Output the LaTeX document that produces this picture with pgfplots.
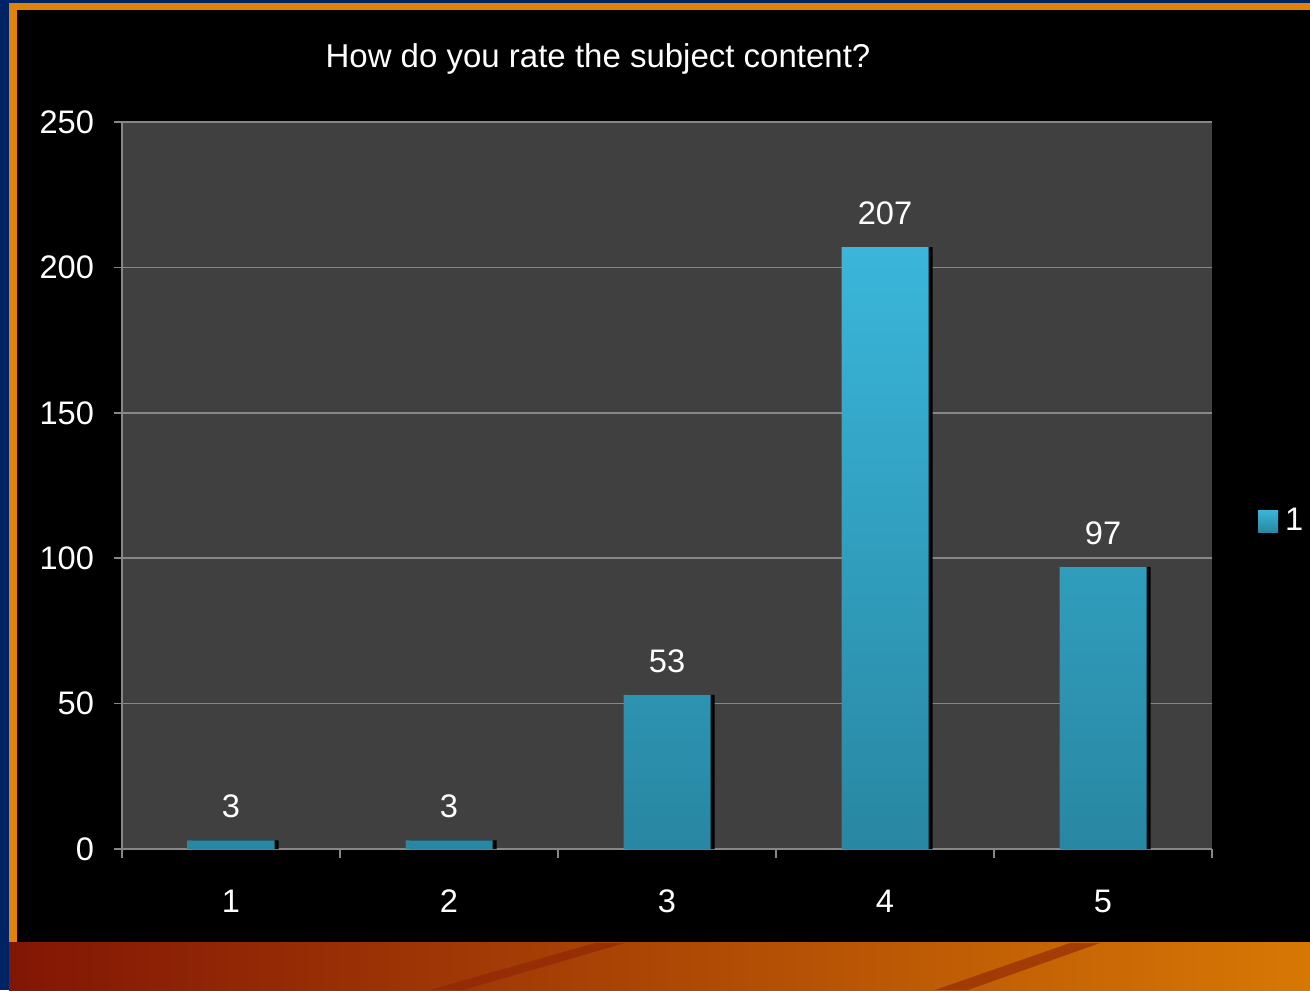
\documentclass[border=0pt]{standalone}
\usepackage{pgfplots}
\pgfplotsset{compat=1.18}
\usepackage{fontspec}
\setmainfont{Liberation Sans}
\definecolor{slideblue}{RGB}{0,35,100}
\definecolor{slideorange}{RGB}{225,130,10}
\definecolor{bandleft}{RGB}{130,22,5}
\definecolor{bandright}{RGB}{215,120,5}
\definecolor{stripe}{RGB}{140,35,5}
\definecolor{plotbg}{RGB}{64,64,64}
\definecolor{gridgray}{RGB}{135,135,135}
\definecolor{bartop}{RGB}{58,182,218}
\definecolor{barbottom}{RGB}{40,135,162}
\begin{document}
\begin{tikzpicture}[x=0.5pt,y=0.5pt]
% slide background
\fill[slideblue] (0,0) rectangle (1310,990);
\fill[slideorange] (9,0) rectangle (1310,987);
\shade[left color=bandleft, right color=bandright] (9,0) rectangle (1310,48);
\fill[stripe, opacity=0.6] (430,0) -- (463,0) -- (625,47) -- (595,47) -- cycle;
\fill[stripe, opacity=0.6] (935,0) -- (968,0) -- (1100,47) -- (1070,47) -- cycle;
\fill[black] (17,48) rectangle (1310,980);
% title
\node[white, font=\fontsize{16.5}{20}\selectfont] at (598,931) {How do you rate the subject content?};
\begin{axis}[
  at={(61pt,70.5pt)}, anchor=south west,
  scale only axis, width=545pt, height=363.5pt,
  xmin=0.5, xmax=5.5, ymin=0, ymax=250,
  axis background/.style={fill=plotbg},
  axis x line*=bottom, axis y line*=left,
  axis line style={draw=gridgray, line width=0.8pt},
  ytick={0,50,...,250},
  ymajorgrids, grid style={draw=gridgray, line width=0.8pt},
  xtick={1,2,3,4,5},
  major x tick style={draw=none},
  minor xtick={0.5,1.5,2.5,3.5,4.5,5.5},
  minor x tick style={draw=gridgray, line width=0.8pt},
  major y tick style={draw=gridgray, line width=0.8pt},
  tick align=outside,
  major tick length=4pt, minor tick length=4.5pt,
  /pgf/number format/assume math mode=true,
  tick label style={white, font=\fontsize{16.3}{19}\selectfont},
  xticklabel style={yshift=-13pt},
  yticklabel style={xshift=-6.5pt},
  legend style={at={(1.042,0.451)}, anchor=west, draw=none, fill=none,
    text=white, font=\fontsize{16.3}{19}\selectfont,
    inner sep=0pt, nodes={inner sep=1pt}},
  legend image code/.code={\shade[top color=bartop, bottom color=barbottom] (0pt,-5.5pt) rectangle (10pt,5.5pt);},
  legend cell align=left,
]
\addplot[ybar, bar width=43.5pt, bar shift=2pt, fill=black, draw=none, forget plot]
  coordinates {(1,3) (2,3) (3,53) (4,207) (5,97)};
\addplot[ybar, bar width=43.5pt, bar shift=0pt, draw=none,
  top color=bartop, bottom color=barbottom,
  nodes near coords,
  every node near coord/.append style={white, font=\fontsize{16.3}{19}\selectfont, yshift=7.5pt}]
  coordinates {(1,3) (2,3) (3,53) (4,207) (5,97)};
\addlegendentry{\hspace{2.5pt}1}
\end{axis}
\pgfresetboundingbox
\path[use as bounding box] (0,0) rectangle (1310,990);
\end{tikzpicture}
\end{document}
